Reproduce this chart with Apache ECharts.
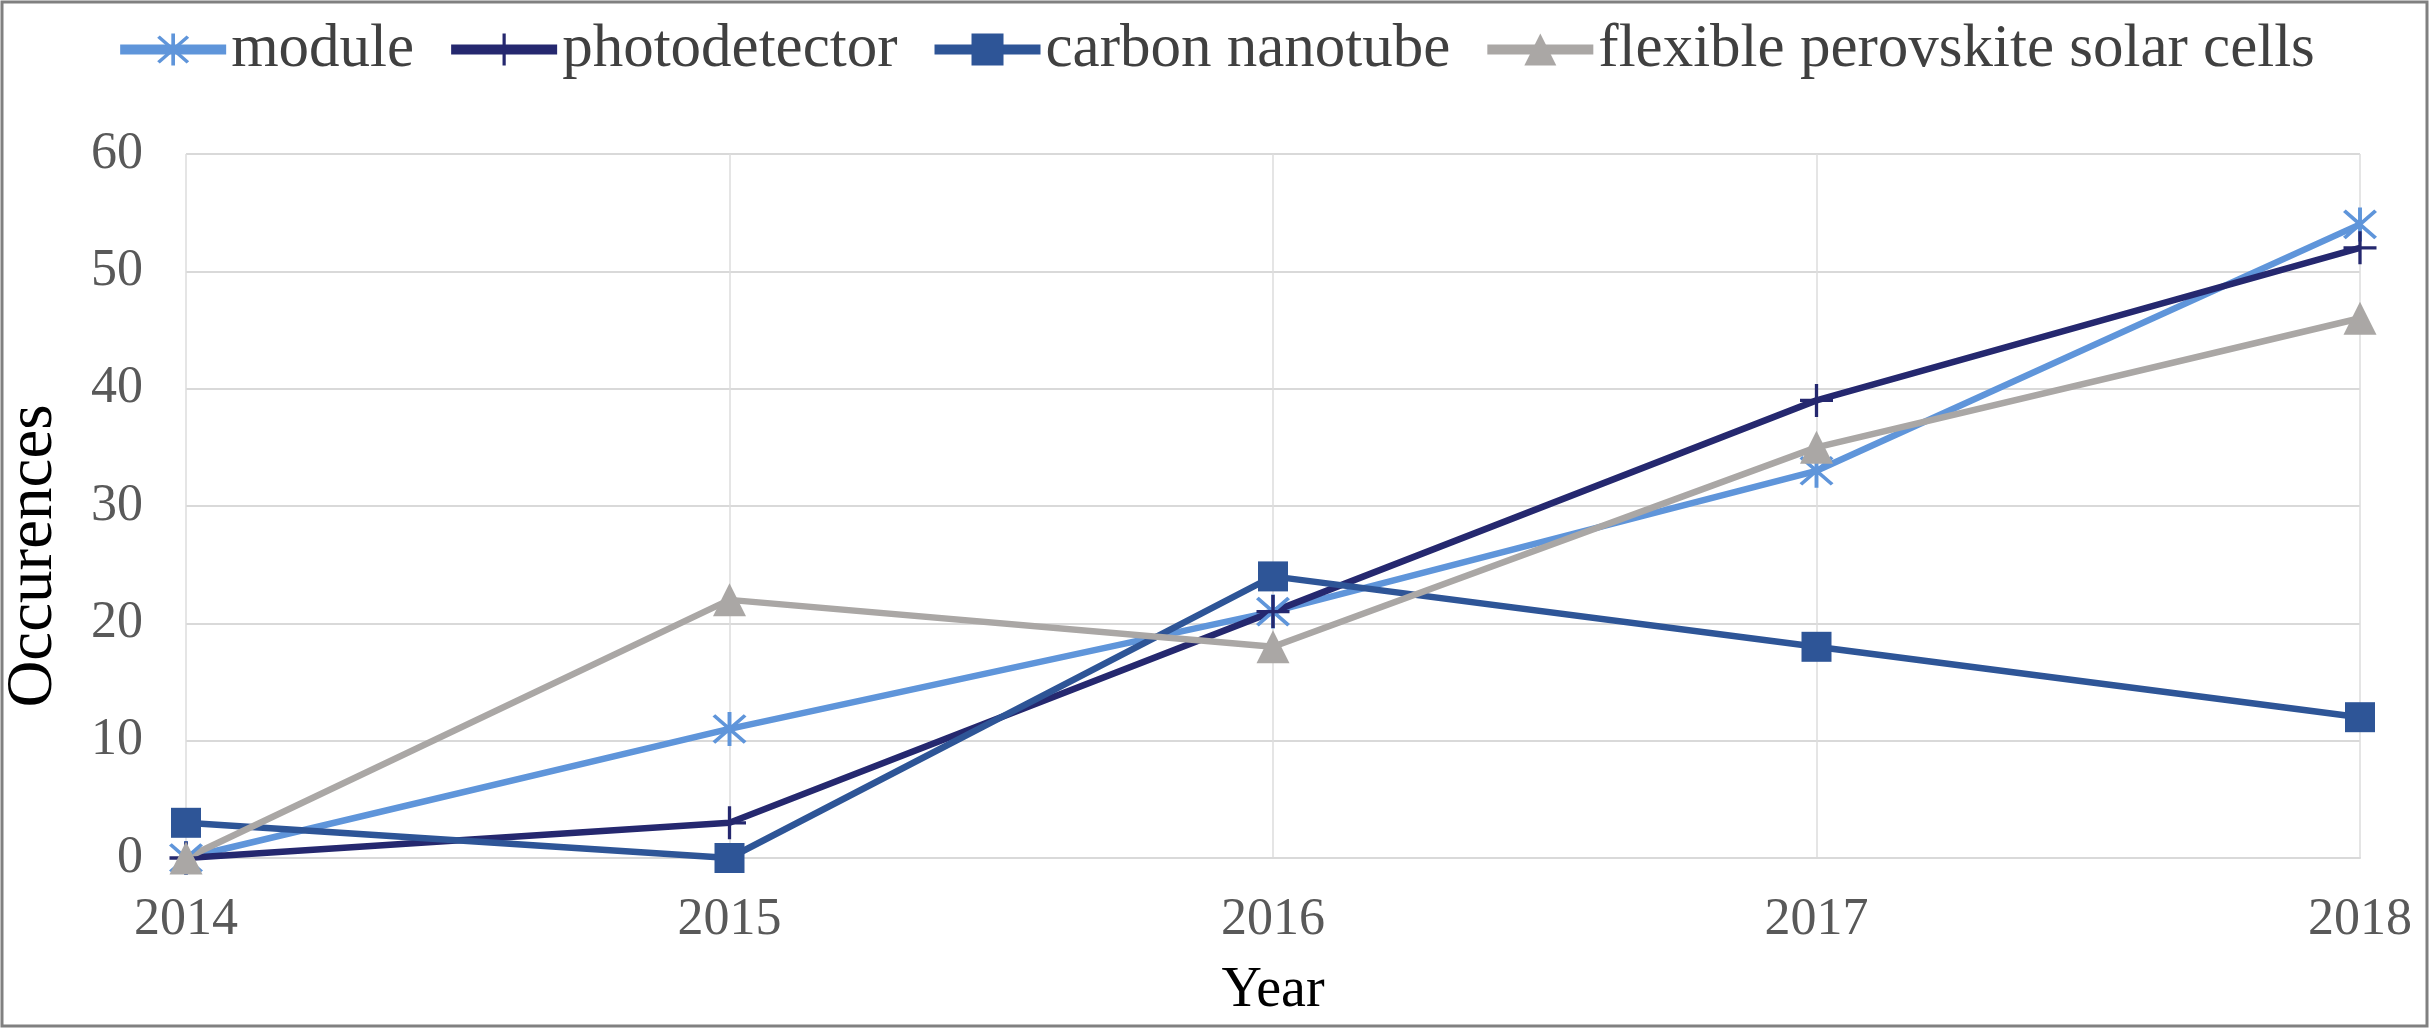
<!DOCTYPE html>
<html>
<head>
<meta charset="utf-8">
<script src="https://cdn.jsdelivr.net/npm/echarts@6/dist/echarts.min.js"></script>
<style>
html,body{margin:0;padding:0;background:#fff;}
#chart{width:2430px;height:1029px;}
</style>
</head>
<body>
<div id="chart"></div>
<script>
var years = ['2014', '2015', '2016', '2017', '2018'];
var moduleData = [0, 11, 21, 33, 54];
var photodetectorData = [0, 3, 21, 39, 52];
var carbonNanotubeData = [3, 0, 24, 18, 12];
var flexiblePscData = [0, 22, 18, 35, 46];
var seriesNames = ['module', 'photodetector', 'carbon nanotube', 'flexible perovskite solar cells'];
var yTicks = { min: 0, max: 60, interval: 10 };

var FONT = "'Liberation Serif', 'Times New Roman', serif";
var starPath = 'path://M9,0 L11,0 L11,20 L9,20 Z M1.3,2.7 L2.7,1.3 L18.7,17.3 L17.3,18.7 Z M17.3,1.3 L18.7,2.7 L2.7,18.7 L1.3,17.3 Z';
var plusPath = 'path://M9,0 L11,0 L11,20 L9,20 Z M0,9 L20,9 L20,11 L0,11 Z';

function mkSeries(name, data, color, symbol, size) {
  return {
    name: name,
    type: 'line',
    data: data,
    symbol: symbol,
    symbolSize: size,
    showAllSymbol: true,
    lineStyle: { color: color, width: 6.5 },
    itemStyle: { color: color },
    emphasis: { disabled: true },
    animation: false
  };
}

var chart = echarts.init(document.getElementById('chart'), null, { renderer: 'canvas' });
chart.setOption({
  backgroundColor: '#ffffff',
  animation: false,
  grid: { left: 186, right: 70, top: 154, bottom: 171, containLabel: false },
  legend: {
    top: 14,
    left: 'center',
    itemWidth: 106,
    itemHeight: 40,
    itemGap: 32,
    lineStyle: { width: 10 },
    textStyle: { fontFamily: FONT, fontSize: 61, color: '#404040' },
    data: seriesNames
  },
  xAxis: {
    type: 'category',
    data: years,
    boundaryGap: false,
    axisLine: { show: true, lineStyle: { color: '#d9d9d9', width: 2 } },
    axisTick: { show: false },
    splitLine: { show: true, lineStyle: { color: '#dcdcdc', width: 1.5 } },
    axisLabel: { fontFamily: FONT, fontSize: 52, color: '#595959', margin: 36 },
    name: 'Year',
    nameLocation: 'middle',
    nameGap: 105,
    nameTextStyle: { fontFamily: FONT, fontSize: 56, color: '#000000' }
  },
  yAxis: {
    type: 'value',
    min: yTicks.min,
    max: yTicks.max,
    interval: yTicks.interval,
    axisLine: { show: false },
    axisTick: { show: false },
    splitLine: { show: true, lineStyle: { color: '#d9d9d9', width: 2 } },
    axisLabel: { fontFamily: FONT, fontSize: 52, color: '#595959', margin: 43 }
  },
  graphic: [
    {
      type: 'text',
      x: 34, y: 556,
      rotation: Math.PI / 2,
      style: {
        text: 'Occurences',
        fontFamily: FONT,
        fontSize: 65,
        fill: '#000000',
        align: 'center',
        verticalAlign: 'middle'
      }
    },
    {
      type: 'rect',
      shape: { x: 2, y: 2, width: 2425, height: 1024 },
      style: { fill: 'none', stroke: '#808080', lineWidth: 3 },
      silent: true
    }
  ],
  series: [
    mkSeries(seriesNames[0], moduleData, '#5f95da', starPath, 34),
    mkSeries(seriesNames[1], photodetectorData, '#25286f', plusPath, 33),
    mkSeries(seriesNames[2], carbonNanotubeData, '#2e5597', 'rect', 30),
    mkSeries(seriesNames[3], flexiblePscData, '#aaa7a5', 'triangle', 33)
  ]
});
</script>
</body>
</html>
